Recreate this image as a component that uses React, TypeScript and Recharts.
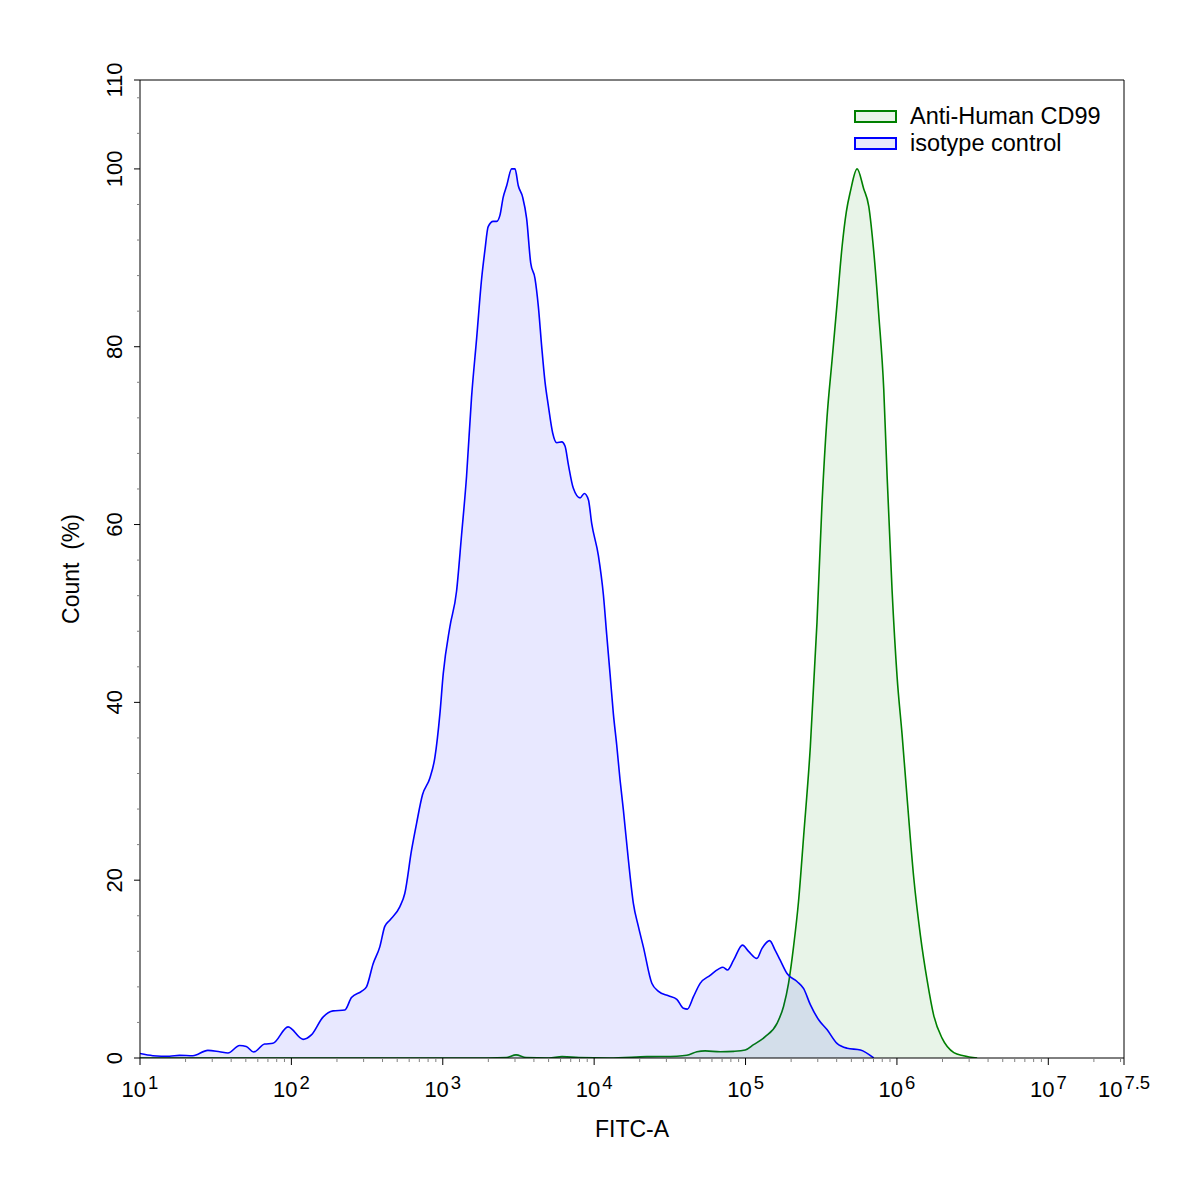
import React from 'react';
import { AreaChart, Area, XAxis, YAxis, Legend, ReferenceLine, Label } from 'recharts';

const FONT = '"Liberation Sans", Arial, sans-serif';

// [log10(FITC-A), count % of max]
const ISOTYPE: [number, number][] = [
  [1.0, 0.5], [1.085, 0.26], [1.195, 0.19], [1.261, 0.3], [1.349, 0.26], [1.448, 0.86],
  [1.526, 0.7], [1.581, 0.56], [1.658, 1.4], [1.702, 1.3], [1.751, 0.67], [1.823, 1.57],
  [1.878, 1.65], [1.978, 3.5], [2.077, 2.1], [2.132, 2.6], [2.209, 4.6], [2.275, 5.3],
  [2.353, 5.4], [2.397, 6.8], [2.463, 7.5], [2.496, 8.0], [2.54, 10.6], [2.584, 12.5],
  [2.617, 14.8], [2.65, 15.5], [2.716, 17.0], [2.749, 18.5], [2.794, 23.4], [2.827, 26.4],
  [2.866, 29.6], [2.915, 31.5], [2.948, 33.8], [2.981, 38.7], [3.003, 43.2], [3.047, 48.5],
  [3.091, 52.5], [3.124, 58.8], [3.157, 65.4], [3.19, 74.3], [3.224, 81.0], [3.257, 87.7],
  [3.278, 90.8], [3.3, 93.5], [3.333, 94.1], [3.356, 94.1], [3.378, 94.8], [3.399, 96.8],
  [3.422, 98.1], [3.455, 100], [3.477, 100], [3.499, 98.1], [3.528, 96.8], [3.554, 94.4],
  [3.581, 89.4], [3.609, 87.7], [3.631, 84.6], [3.653, 80.1], [3.675, 76.1], [3.697, 73.4],
  [3.726, 70.3], [3.753, 69.2], [3.786, 69.3], [3.808, 68.8], [3.829, 66.8], [3.862, 64.1],
  [3.907, 63.0], [3.935, 63.5], [3.962, 62.8], [3.984, 60.1], [4.028, 56.5], [4.061, 52.1],
  [4.083, 47.6], [4.105, 43.2], [4.127, 38.7], [4.149, 35.2], [4.171, 31.3], [4.193, 27.9],
  [4.226, 22.3], [4.259, 17.4], [4.292, 14.8], [4.325, 12.5], [4.381, 8.4], [4.425, 7.5],
  [4.491, 7.0], [4.546, 6.6], [4.59, 5.6], [4.616, 5.5], [4.656, 6.9], [4.7, 8.4],
  [4.766, 9.3], [4.821, 10.0], [4.851, 10.2], [4.881, 9.9], [4.921, 11.0], [4.98, 12.7],
  [5.02, 12.0], [5.075, 11.2], [5.108, 12.3], [5.159, 13.2], [5.196, 12.1], [5.229, 11.0],
  [5.274, 9.5], [5.34, 8.6], [5.384, 7.8], [5.428, 6.0], [5.483, 4.3], [5.538, 3.2],
  [5.604, 1.65], [5.671, 1.1], [5.759, 0.9], [5.847, 0],
];

const CD99: [number, number][] = [
  [1.0, 0], [3.3, 0], [3.42, 0.05], [3.484, 0.35], [3.55, 0.05], [3.7, 0], [3.788, 0.15],
  [3.9, 0.05], [4.1, 0], [4.348, 0.15], [4.546, 0.2], [4.612, 0.3], [4.679, 0.7],
  [4.733, 0.8], [4.833, 0.7], [4.921, 0.75], [4.998, 0.9], [5.053, 1.5], [5.13, 2.4],
  [5.208, 3.9], [5.251, 5.8], [5.284, 8.4], [5.317, 12.5], [5.35, 17.6], [5.384, 25.0],
  [5.428, 35.0], [5.472, 49.0], [5.505, 62.3], [5.538, 72.0], [5.571, 78.4], [5.605, 84.9],
  [5.638, 91.3], [5.666, 95.2], [5.693, 97.5], [5.737, 100], [5.78, 97.8], [5.814, 95.8],
  [5.847, 90.7], [5.88, 83.6], [5.913, 75.2], [5.935, 65.5], [5.968, 52.6], [6.001, 42.9],
  [6.034, 36.4], [6.067, 29.3], [6.111, 20.3], [6.155, 13.8], [6.2, 8.7], [6.243, 4.8],
  [6.299, 2.2], [6.376, 0.6], [6.44, 0.25], [6.53, 0],
];

const X_MAJOR = [1, 2, 3, 4, 5, 6, 7, 7.5];
const X_MINOR_MULT = [2, 3, 4, 5, 6, 7, 8, 9];
const Y_MAJOR = [0, 20, 40, 60, 80, 100, 110];
const Y_MINOR_STEP = 4;

const SERIES = [
  { key: 'cd99', name: 'Anti-Human CD99', stroke: '#008000', box: '#e8f4e8' },
  { key: 'isotype', name: 'isotype control', stroke: '#0000ff', box: '#e8e8fc' },
];

const rows = [
  ...ISOTYPE.map(([x, v]) => ({ x, isotype: v })),
  ...CD99.map(([x, v]) => ({ x, cd99: v })),
].sort((a, b) => a.x - b.x);

const xMinor: number[] = [];
for (let d = 1; d <= 7; d++) {
  X_MINOR_MULT.forEach((m) => {
    const v = d + Math.log10(m);
    if (v < 7.5) xMinor.push(v);
  });
}
const X_TICKS = [...X_MAJOR, ...xMinor].sort((a, b) => a - b);

const yMinor: number[] = [];
for (let v = 0; v <= 110; v += Y_MINOR_STEP) {
  if (!Y_MAJOR.includes(v)) yMinor.push(v);
}
const Y_TICKS = [...Y_MAJOR, ...yMinor].sort((a, b) => a - b);

const XTick = (props: any) => {
  const { x, y, payload } = props;
  const v = payload.value;
  const major = X_MAJOR.includes(v);
  return (
    <g>
      <line x1={x} x2={x} y1={y} y2={y + (major ? 7 : 4)} stroke={major ? '#000' : '#808080'} strokeWidth={1} />
      {major && (
        <text x={x} y={y + 39} textAnchor="middle" fontSize={22} fontFamily={FONT} fill="#000">
          <tspan>10</tspan>
          <tspan dx={2} dy={-8.5} fontSize={18.5}>{v}</tspan>
        </text>
      )}
    </g>
  );
};

const YTick = (props: any) => {
  const { x, y, payload } = props;
  const v = payload.value;
  const major = Y_MAJOR.includes(v);
  return (
    <g>
      <line x1={x - (major ? 6 : 3)} x2={x} y1={y} y2={y} stroke={major ? '#000' : '#808080'} strokeWidth={1} />
      {major && (
        <text
          transform={`translate(${x - 18},${y}) rotate(-90)`}
          textAnchor="middle"
          fontSize={22}
          fontFamily={FONT}
          fill="#000"
        >
          {v}
        </text>
      )}
    </g>
  );
};

const xLabel = (props: any) => {
  const vb = props.viewBox;
  return (
    <text x={vb.x + vb.width / 2} y={vb.y + 79} textAnchor="middle" fontSize={23} fontFamily={FONT} fill="#000">
      FITC-A
    </text>
  );
};

const yLabel = (props: any) => {
  const vb = props.viewBox;
  return (
    <text
      transform={`translate(${vb.x - 1},${vb.y + vb.height / 2}) rotate(-90)`}
      textAnchor="middle"
      fontSize={23}
      fontFamily={FONT}
      fill="#000"
    >
      {'Count\u00a0 (%)'}
    </text>
  );
};

const LegendBox = () => (
  <div style={{ fontFamily: FONT, fontSize: 23.5, color: '#000' }}>
    {SERIES.map((s) => (
      <div key={s.key} style={{ display: 'flex', alignItems: 'center', height: 27.3 }}>
        <span
          style={{
            display: 'inline-block',
            width: 39,
            height: 9,
            border: `2px solid ${s.stroke}`,
            background: s.box,
            marginRight: 13,
          }}
        />
        <span>{s.name}</span>
      </div>
    ))}
  </div>
);

export default function App() {
  return (
    <div style={{ position: 'absolute', left: 0, top: 0, width: 1197, height: 1193, background: '#fff', fontFamily: FONT }}>
      <AreaChart width={1197} height={1193} data={rows} margin={{ top: 80, right: 73, bottom: 75, left: 80 }}>
        <XAxis
          type="number"
          dataKey="x"
          domain={[1, 7.5]}
          allowDataOverflow
          ticks={X_TICKS}
          interval={0}
          tick={<XTick />}
          tickLine={false}
          tickSize={0}
          tickMargin={0}
          height={60}
          axisLine={{ stroke: '#000', strokeWidth: 1 }}
        >
          <Label content={xLabel} />
        </XAxis>
        <YAxis
          type="number"
          domain={[0, 110]}
          allowDataOverflow
          ticks={Y_TICKS}
          interval={0}
          tick={<YTick />}
          tickLine={false}
          tickSize={0}
          tickMargin={0}
          width={60}
          axisLine={{ stroke: '#000', strokeWidth: 1 }}
        >
          <Label content={yLabel} />
        </YAxis>
        <ReferenceLine y={110} stroke="#000" strokeWidth={1} />
        <ReferenceLine x={7.5} stroke="#000" strokeWidth={1} />
        {SERIES.map((s) => (
          <Area
            key={s.key}
            type="monotone"
            dataKey={s.key}
            name={s.name}
            stroke={s.stroke}
            strokeWidth={1.6}
            fill={s.stroke}
            fillOpacity={0.09}
            connectNulls
            dot={false}
            activeDot={false}
            isAnimationActive={false}
          />
        ))}
        <Legend
          content={<LegendBox />}
          layout="vertical"
          align="center"
          verticalAlign="middle"
          wrapperStyle={{ left: 854, top: 103, width: 320, height: 60 }}
        />
      </AreaChart>
    </div>
  );
}
